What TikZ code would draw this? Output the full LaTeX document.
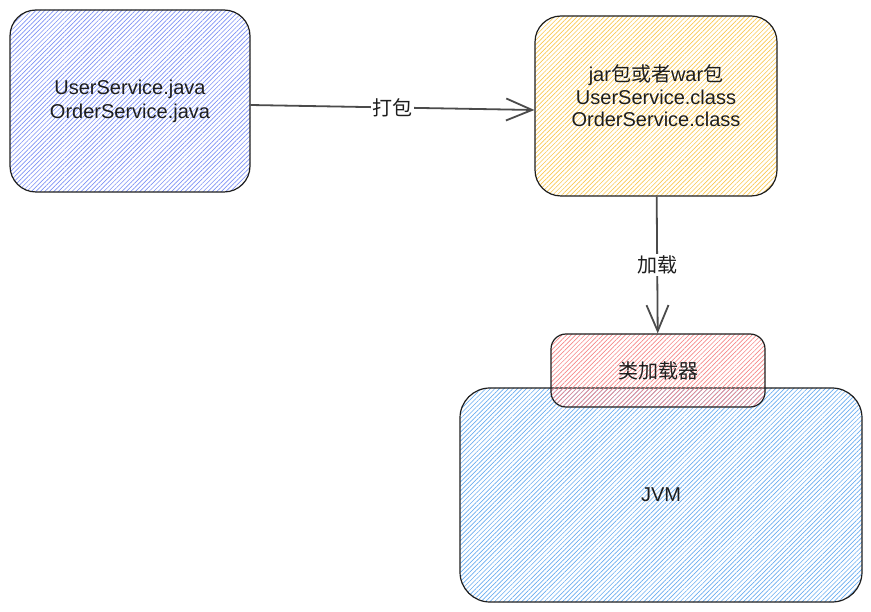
\documentclass[tikz,border=0pt]{standalone}
\usepackage{fontspec}
\setmainfont{Liberation Sans}
\newfontfamily\cjk{Noto Sans CJK SC}
\usepackage{xcolor}
\usepackage{tikz}
\usetikzlibrary{arrows.meta,patterns.meta,positioning}
\definecolor{inkgray}{RGB}{30,30,30}
\definecolor{hatchviolet}{RGB}{125,145,245}
\definecolor{hatchyellow}{RGB}{250,200,80}
\definecolor{hatchred}{RGB}{245,135,135}
\definecolor{hatchblue}{RGB}{105,172,240}
\newcommand{\zh}[1]{{\cjk #1}}
\tikzset{
  sketchbox/.style  = {draw=inkgray, line width=1.2pt, align=center,
                       text=inkgray, font=\fontsize{20}{24}\selectfont,
                       inner sep=0pt},
  hatch/.style      = {pattern={Lines[angle=45,distance=3.2pt,line width=0.65pt]},
                       pattern color=#1},
  srcbox/.style     = {sketchbox, hatch=hatchviolet, rounded corners=26pt,
                       minimum width=240pt, minimum height=182pt},
  pkgbox/.style     = {sketchbox, hatch=hatchyellow, rounded corners=26pt,
                       minimum width=242pt, minimum height=180pt},
  loaderbox/.style  = {sketchbox, hatch=hatchred, rounded corners=15pt,
                       minimum width=214pt, minimum height=73pt},
  jvmbox/.style     = {sketchbox, hatch=hatchblue, rounded corners=30pt,
                       minimum width=402pt, minimum height=214pt},
  boxtext/.style    = {align=center, text=inkgray, inner sep=0pt,
                       font=\fontsize{20}{22.5}\selectfont},
  flow/.style       = {-{Straight Barb[length=26pt,width=22pt]}, line width=1.8pt,
                       draw=inkgray!80},
  flowlab/.style    = {fill=white, text=inkgray, inner sep=1.5pt,
                       font=\fontsize{20}{24}\selectfont\cjk},
}

\begin{document}
\begin{tikzpicture}[x=1pt, y=-1pt]
  \useasboundingbox (0,0) rectangle (871,612);
  \node[srcbox]    (src)    at (130, 101)   {UserService.java\\OrderService.java};
  \node[pkgbox]    (pkg)    at (656, 106)   {};
  \node[boxtext]   (pkgtxt) at (656, 96)    {jar\zh{包或者}war\zh{包}\\UserService.class\\OrderService.class};
  \node[jvmbox]    (jvm)    at (661, 495)   {JVM};
  \node[loaderbox] (loader) at (658, 370.5) {\zh{类加载器}};
  \draw[flow] ([yshift=-4pt]src.east) -- node[flowlab] {打包} ([yshift=-4pt]pkg.west);
  \draw[flow] (pkg) -- node[flowlab] {加载} (loader);
\end{tikzpicture}
\end{document}
